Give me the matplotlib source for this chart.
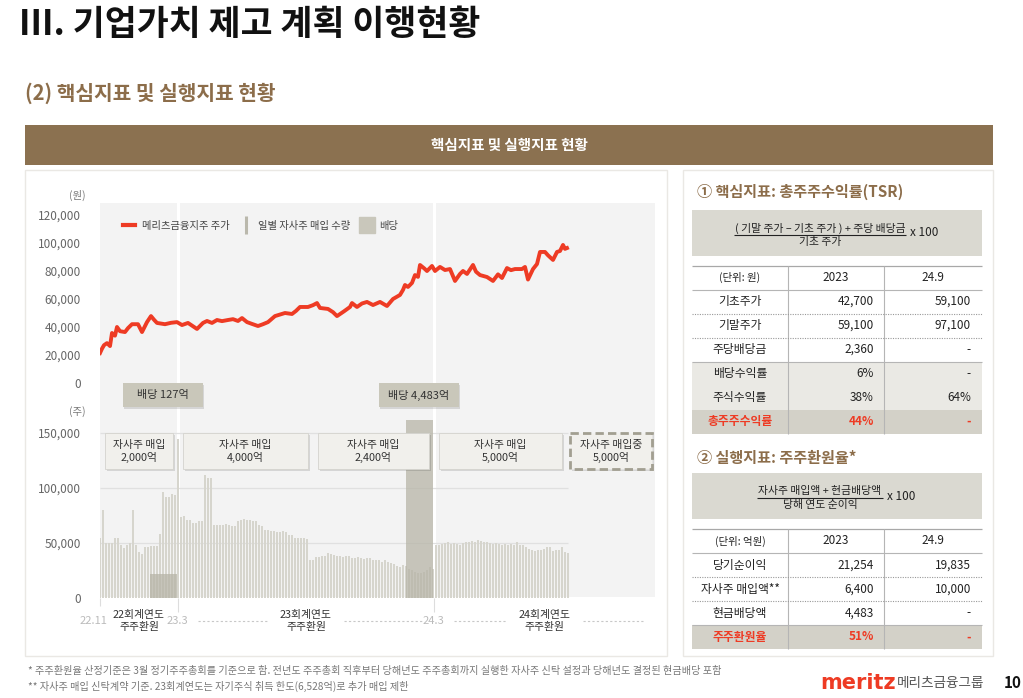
import numpy as np
import matplotlib
matplotlib.use("Agg")
import matplotlib.pyplot as plt
from matplotlib.patches import Rectangle
from matplotlib.lines import Line2D

plt.rcParams['font.family'] = ['Noto Sans CJK KR', 'DejaVu Sans']

# ---------------- data ----------------
# 메리츠금융지주 주가 (x = 22.11 이후 거래일)
price_day = [0, 2, 4, 7, 10, 12, 15, 17, 20, 25, 28, 32, 38, 42, 47, 51, 54, 57, 65, 71, 77,
             82, 88, 92, 97, 103, 107, 112, 117, 122, 128, 133, 138, 142, 147, 152, 158, 163,
             168, 175, 180, 185, 192, 196, 200, 208, 213, 217, 220, 228, 233, 237, 244, 250,
             252, 257, 262, 267, 273, 280, 287, 293, 300, 303, 305, 308, 312, 315, 318, 320,
             324, 327, 332, 335, 340, 345, 350, 355, 360, 363, 367, 373, 376, 380, 387, 393,
             398, 402, 407, 411, 415, 422, 425, 428, 433, 437, 440, 445, 448, 453, 457, 460,
             463, 465, 467]
price_val = [21400, 24500, 27000, 28500, 26400, 35700, 33800, 40000, 37000, 36400, 39200,
             42000, 42000, 36400, 43500, 47800, 45200, 42900, 42000, 43000, 43500, 41400,
             42900, 41000, 38600, 42900, 44300, 42900, 45000, 44200, 45000, 45600, 44300,
             46400, 43500, 42200, 40700, 42000, 43500, 47800, 48900, 50000, 49300, 51500,
             54300, 54300, 55600, 57100, 53600, 52900, 50600, 47800, 51200, 54300, 57100,
             54300, 56800, 57900, 55700, 57900, 55000, 60000, 62900, 66500, 70000, 68600,
             71500, 77100, 75800, 84300, 82000, 80000, 83600, 80000, 82900, 80700, 81400,
             72900, 77900, 80000, 77900, 84300, 79500, 77100, 75700, 72900, 77600, 75000,
             82100, 80600, 81400, 81400, 82900, 73900, 81400, 85000, 93600, 93600, 91200,
             87900, 93600, 94300, 98600, 95800, 96400]

# 일별 자사주 매입 수량 (3거래일 간격)
buy_first, buy_step = 0, 3
buy_shares = [54500, 80000, 50000, 50000, 50000, 54500, 54500, 48000, 45500, 48000, 50000,
              80000, 48000, 41800, 40000, 46400, 46400, 47300, 47300, 47300, 58000, 96400,
              92000, 92000, 95000, 94000, 145000,
              73600, 75000, 71000, 71000, 68000, 68000, 70000, 70000, 111800, 109000, 109000,
              66400, 66400, 66400, 66400, 67000, 66400, 65500, 65500, 70000, 71000, 71500,
              71000, 71000, 70000, 70000, 66000, 65500, 62000, 62000, 61000, 61000, 60000,
              60000, 60500, 60000, 57300, 57300, 55000, 54500, 54500, 54500, 54000, 34500,
              34500, 37000, 37000, 38000, 38000, 40900, 40000, 39000, 38500, 38000, 37000,
              38000, 38000, 36400, 36400, 37000, 36400, 35500, 36400, 36000, 35000, 34500,
              34500, 33000, 34500, 33000, 32000, 30500, 29000, 28600, 30000, 29000, 26000,
              25500, 24000, 23000, 22700, 24000, 25500, 28600, 26000,
              48200, 48200, 49000, 50000, 51000, 49500, 50000, 49000, 48500, 50000, 50500,
              51000, 51500, 51000, 52700, 52000, 51000, 50500, 50000, 49500, 50000, 49000,
              48500, 49000, 48500, 49000, 48500, 50500, 48200, 48200, 46000, 45000, 43600,
              43000, 43600, 44000, 45000, 46400, 46400, 43000, 44000, 43600, 46000, 42000,
              40900]

# 배당
div_labels = ['배당 127억', '배당 4,483억']
div_start = [50, 306]
div_end = [77, 333]
div_height = [21800, 161800]

# 기간 구분
tick_day = [0, 78, 334]
tick_labels = ['22.11', '23.3', '24.3']
fy_bounds = [0, 78, 334, 555]
fy_labels = ['22회계연도\n주주환원', '23회계연도\n주주환원', '24회계연도\n주주환원']
bb_bounds = [0, 78, 213, 334, 467, 555]
bb_labels = ['자사주 매입\n2,000억', '자사주 매입\n4,000억', '자사주 매입\n2,400억',
             '자사주 매입\n5,000억', '자사주 매입중\n5,000억']

# 표
tsr_rows = ['기초주가', '기말주가', '주당배당금', '배당수익률', '주식수익률', '총주주수익률']
tsr_2023 = ['42,700', '59,100', '2,360', '6%', '38%', '44%']
tsr_249 = ['59,100', '97,100', '-', '-', '64%', '-']
pay_rows = ['당기순이익', '자사주 매입액**', '현금배당액', '주주환원율']
pay_2023 = ['21,254', '6,400', '4,483', '51%']
pay_249 = ['19,835', '10,000', '-', '-']

# ---------------- style ----------------
W, H = 1023, 698
RED = '#EE3B24'
BROWN = '#8B7150'
BAR = '#D6D5CD'
DIV = '#B5B3A5'
XMAX = 555
CX0, CX1 = 100, 655

fig = plt.figure(figsize=(W / 100, H / 100), dpi=100)


def px_axes(x0, y0, x1, y1):
    return fig.add_axes([x0 / W, 1 - y1 / H, (x1 - x0) / W, (y1 - y0) / H])


def dx(d):
    return CX0 + d * (CX1 - CX0) / XMAX


bg = px_axes(0, 0, W, H)
bg.set_xlim(0, W)
bg.set_ylim(H, 0)
bg.axis('off')

# titles
bg.text(19, 25, 'III. 기업가치 제고 계획 이행현황', fontsize=25, fontweight='heavy',
        color='#111111', va='center', ha='left')
bg.text(25, 93, '(2) 핵심지표 및 실행지표 현황', fontsize=14.6, fontweight='bold',
        color='#8C6D4A', va='center', ha='left')
bg.add_patch(Rectangle((25, 125), 968, 40, color=BROWN, lw=0))
bg.text(509, 145, '핵심지표 및 실행지표 현황', fontsize=10.5, fontweight='bold',
        color='white', va='center', ha='center')

# panels
bg.add_patch(Rectangle((25, 170), 642, 486, facecolor='white', edgecolor='#EAE8E4', lw=1))
bg.add_patch(Rectangle((683, 170), 310, 486, facecolor='white', edgecolor='#EAE8E4', lw=1))

# ---------------- chart ----------------
fr = px_axes(CX0, 203, CX1, 597)
fr.set_facecolor('#F3F3F3')
fr.set_xlim(0, XMAX)
fr.set_xticks([])
fr.set_yticks([])
for s in fr.spines.values():
    s.set_visible(False)
for t in tick_day[1:]:
    fr.axvline(t, color='white', lw=2.2)

pa = px_axes(CX0, 208, CX1, 383)
pa.patch.set_visible(False)
pa.set_xlim(0, XMAX)
pa.set_ylim(0, 125000)
pa.plot(price_day, price_val, color=RED, lw=2.8, solid_joinstyle='round')
pa.set_xticks([])
pa.set_yticks(np.arange(0, 120001, 20000))
pa.set_yticklabels([f'{v:,}' for v in range(0, 120001, 20000)])
pa.tick_params(axis='y', length=0, pad=14, labelsize=8.5, labelcolor='#666666')
for s in pa.spines.values():
    s.set_visible(False)

handles = [Line2D([], [], color=RED, lw=3),
           Line2D([], [], color='#BAB8AC', marker='|', ms=13, mew=2.2, ls='none'),
           Line2D([], [], color='#C9C7BB', marker='s', ms=12, ls='none')]
pa.legend(handles, ['메리츠금융지주 주가', '일별 자사주 매입 수량', '배당'],
          loc='center left', bbox_to_anchor=(0.025, 0.897), ncol=3, frameon=False,
          fontsize=7.4, handlelength=1.2, columnspacing=1.0, handletextpad=0.6,
          labelcolor='#444444')

ba = px_axes(CX0, 416.5, CX1, 598)
ba.patch.set_visible(False)
ba.set_xlim(0, XMAX)
ba.set_ylim(0, 165000)
last = buy_first + buy_step * (len(buy_shares) - 1)
for g in [50000, 100000, 150000]:
    ba.hlines(g, 0, last, color='#E0E0E0', lw=0.9, zorder=1)
buy_day = buy_first + buy_step * np.arange(len(buy_shares))
ba.bar(buy_day, buy_shares, width=2.1, color=BAR, lw=0, zorder=2)
for s0, s1, h in zip(div_start, div_end, div_height):
    ba.bar(s0, h, width=s1 - s0, align='edge', color=DIV, alpha=0.72, lw=0, zorder=3)
ba.set_xticks([])
ba.set_yticks([0, 50000, 100000, 150000])
ba.set_yticklabels([f'{v:,}' for v in [0, 50000, 100000, 150000]])
ba.tick_params(axis='y', length=0, pad=14, labelsize=8.5, labelcolor='#666666')
for s in ba.spines.values():
    s.set_visible(False)

# unit labels
bg.text(86, 195, '(원)', fontsize=7.5, color='#777777', ha='right', va='center')
bg.text(86, 412, '(주)', fontsize=7.5, color='#777777', ha='right', va='center')

# x labels below chart
for t, lab in zip(tick_day, tick_labels):
    off = -7 if t == 0 else -1
    bg.text(dx(t) + off, 621, lab, fontsize=8, color='#BBBBBB', ha='center', va='center')
    bg.vlines(dx(t), 598, 606 if t == 0 else 612, color='#DDDDDD', lw=0.8)
for a, b, lab in zip(fy_bounds[:-1], fy_bounds[1:], fy_labels):
    mid = dx((a + b) / 2)
    bg.text(mid, 621, lab, fontsize=7.8, color='#333333', ha='center', va='center',
            linespacing=1.25)
    if b - a > 150:
        bg.hlines(621, dx(a) + 20, mid - 38, color='#C8C8C8', lw=0.8, linestyles=(0, (2, 2)))
        bg.hlines(621, mid + 38, dx(b) - 12, color='#C8C8C8', lw=0.8, linestyles=(0, (2, 2)))

# overlay boxes
ov = px_axes(0, 0, W, H)
ov.set_xlim(0, W)
ov.set_ylim(H, 0)
ov.axis('off')


def shadow_box(x0, y0, w, h, face, edge='none', ls='-', lw=0.6):
    ov.add_patch(Rectangle((x0 + 1.5, y0 + 1.5), w, h, facecolor='#000000', alpha=0.12, lw=0))
    ov.add_patch(Rectangle((x0, y0), w, h, facecolor=face, edgecolor=edge, ls=ls, lw=lw))


for s0, s1, lab in zip(div_start, div_end, div_labels):
    c = dx((s0 + s1) / 2)
    shadow_box(c - 41, 383, 80, 24, '#C9C7BA')
    ov.text(c - 1, 395, lab, fontsize=8, color='#333333', ha='center', va='center')

for i, (a, b, lab) in enumerate(zip(bb_bounds[:-1], bb_bounds[1:], bb_labels)):
    m = 3 if i == len(bb_labels) - 1 else 5
    x0, x1 = dx(a) + m, dx(b) - m
    if i == len(bb_labels) - 1:
        shadow_box(x0, 433, x1 - x0, 36, '#F1F0EC', edge='#A29F91', ls=(0, (3, 1.5)), lw=2)
    else:
        shadow_box(x0, 433, x1 - x0, 36, '#F1F0EC', edge='#D4D3CE')
    ov.text((x0 + x1) / 2, 451.5, lab, fontsize=7.8, color='#333333', ha='center',
            va='center', linespacing=1.3)

# ---------------- right tables ----------------
XL, XA, XB, XR = 692, 788, 884, 982
RH = 24


def draw_table(top, unit, rows, v1, v2, shade):
    n = len(rows)
    for i, sh in enumerate(shade):
        if sh:
            bg.add_patch(Rectangle((XL, top + RH * (i + 1)), XR - XL, RH,
                                   color=sh, lw=0))
    bg.hlines(top, XL, XR, color='#A8A8A8', lw=0.9)
    bg.hlines(top + RH, XL, XR, color='#B5B5B5', lw=0.8)
    bg.vlines([XA, XB], top, top + RH * (n + 1), color='#B5B5B5', lw=0.8)
    for i in range(n - 1):
        y = top + RH * (i + 2)
        if not shade[i] and not shade[i + 1]:
            bg.hlines(y, XL, XR, color='#999999', lw=0.8, linestyles=(0, (1, 1.2)))
        elif not shade[i]:
            bg.hlines(y, XL, XR, color='#B5B5B5', lw=0.8)
    yc = top + RH / 2
    bg.text((XL + XA) / 2, yc, unit, fontsize=7.5, ha='center', va='center', color='#222222')
    bg.text((XA + XB) / 2, yc, '2023', fontsize=8.5, ha='center', va='center', color='#222222')
    bg.text((XB + XR) / 2, yc, '24.9', fontsize=8.5, ha='center', va='center', color='#222222')
    for i, (r, a, b) in enumerate(zip(rows, v1, v2)):
        y = top + RH * (i + 1.5)
        last_row = i == n - 1
        col = RED if last_row else '#222222'
        fw = 'bold' if last_row else 'normal'
        bg.text((XL + XA) / 2, y, r, fontsize=8.5, ha='center', va='center', color=col,
                fontweight=fw)
        bg.text(XB - 10, y, a, fontsize=8.5, ha='right', va='center', color=col, fontweight=fw)
        bg.text(XR - 11, y, b, fontsize=8.5, ha='right', va='center', color=col, fontweight=fw)


def draw_formula(y0, num, den, x_frac0, x_frac1, xmul):
    bg.add_patch(Rectangle((XL, y0), XR - XL, 46, color='#DAD9D1', lw=0))
    mid = (x_frac0 + x_frac1) / 2
    bg.text(mid, y0 + 18, num, fontsize=7.8, ha='center', va='center', color='#222222')
    bg.hlines(y0 + 25, x_frac0, x_frac1, color='#222222', lw=0.8)
    bg.text(mid, y0 + 32, den, fontsize=7.8, ha='center', va='center', color='#222222')
    bg.text(xmul, y0 + 23, 'x 100', fontsize=8.5, ha='left', va='center', color='#222222')


bg.text(697, 192, '① 핵심지표: 총주주수익률(TSR)', fontsize=10.9, fontweight='bold',
        color='#8C6D4A', ha='left', va='center')
draw_formula(210, '( 기말 주가 – 기초 주가 ) + 주당 배당금', '기초 주가', 734, 906, 910)
draw_table(265.5, '(단위: 원)', tsr_rows, tsr_2023, tsr_249,
           ['', '', '', '#EAE9E4', '#EAE9E4', '#D3D1C8'])

bg.text(697, 458, '② 실행지표: 주주환원율*', fontsize=10.9, fontweight='bold',
        color='#8C6D4A', ha='left', va='center')
draw_formula(473, '자사주 매입액 + 현금배당액', '당해 연도 순이익', 757, 883, 887)
draw_table(529, '(단위: 억원)', pay_rows, pay_2023, pay_249,
           ['', '', '', '#D3D1C8'])

# ---------------- footer ----------------
bg.text(28, 671, '* 주주환원율 산정기준은 3월 정기주주총회를 기준으로 함. 전년도 주주총회 직후부터 '
        '당해년도 주주총회까지 실행한 자사주 신탁 설정과 당해년도 결정된 현금배당 포함',
        fontsize=7.3, color='#777777', ha='left', va='center')
bg.text(28, 686, '** 자사주 매입 신탁계약 기준. 23회계연도는 자기주식 취득 한도(6,528억)로 추가 매입 제한',
        fontsize=7.3, color='#777777', ha='left', va='center')
bg.text(820, 683, 'meritz', fontsize=15, fontweight='heavy', color=RED,
        family=['DejaVu Sans'], ha='left', va='center')
bg.text(897, 683, '메리츠금융그룹', fontsize=9.8, color='#555555', ha='left', va='center')
bg.text(1004, 683, '10', fontsize=11, fontweight='bold', color='#111111', ha='left',
        va='center')

fig.savefig('out.png', dpi=100)
